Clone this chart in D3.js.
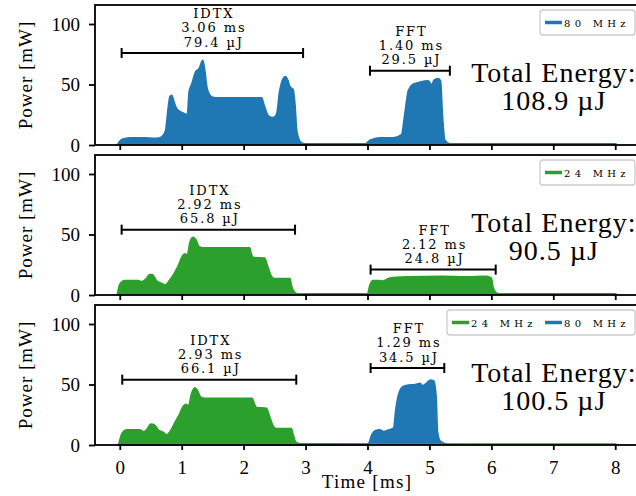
<!DOCTYPE html>
<html>
<head>
<meta charset="utf-8">
<script src="https://cdn.jsdelivr.net/npm/d3@7"></script>
<style>
body { margin: 0; background: white; }
text { font-family: "Liberation Serif", "Times New Roman", serif; fill: black; }
.small { font-family: "DejaVu Serif", serif; font-size: 13px; letter-spacing: 1.9px; }
.legtext { font-family: "DejaVu Serif", serif; font-size: 10px; letter-spacing: 4.3px; }
.tick text { font-size: 19px; font-family: "Liberation Serif", "Times New Roman", serif; }
.big { font-size: 28px; letter-spacing: 1px; }
</style>
</head>
<body>
<div id="vis"></div>
<script>
var w = 636;
var h = 496;

// power traces [time ms, power mW]
var trace80 = [[-0.04,0],[0.0,3],[0.05,5],[0.2,6],[0.4,6],[0.55,5.5],[0.65,6],[0.70,8],[0.74,12],[0.78,30],[0.81,40],[0.84,41],[0.88,35],[0.92,30],[1.0,27],[1.09,25],[1.12,44],[1.16,50],[1.23,61],[1.28,63],[1.34,70],[1.37,63],[1.41,47],[1.48,40],[1.55,39],[2.29,39],[2.33,33],[2.40,24],[2.47,22.6],[2.53,25],[2.58,44],[2.63,54],[2.67,56.5],[2.71,54],[2.75,48],[2.80,46],[2.83,33],[2.86,11],[2.93,2],[3.0,1],[3.97,1],[4.04,4],[4.2,6],[4.42,6],[4.55,8.5],[4.6,25],[4.66,45],[4.73,50],[4.85,52],[4.98,53],[5.04,49.6],[5.07,53.5],[5.14,55],[5.18,53],[5.21,25],[5.25,4],[5.33,1],[8.02,1]];

var trace24 = [[-0.04,0],[0.0,9],[0.08,12],[0.30,12],[0.35,11],[0.43,13.5],[0.48,17],[0.53,16.7],[0.59,12],[0.66,10],[0.74,8.5],[0.81,12.6],[0.87,17],[0.94,23.6],[1.01,32],[1.05,34],[1.09,33],[1.13,43],[1.18,47.6],[1.23,45.7],[1.28,40],[1.35,39],[2.10,39],[2.12,34.7],[2.16,31],[2.34,30.6],[2.38,25],[2.45,15.4],[2.50,13.5],[2.75,13.5],[2.77,8.5],[2.82,2.5],[2.88,1],[4.0,1],[4.04,8.5],[4.09,12],[4.2,12],[4.25,11.6],[4.36,14],[4.68,15],[5.22,15.5],[5.6,15],[5.92,15.5],[6.0,14],[6.03,5.8],[6.09,1.5],[6.15,1],[8.02,1]];

var mixed24 = [[-0.02,0],[0.04,10],[0.11,12.6],[0.32,12.6],[0.38,11],[0.44,13],[0.50,17.4],[0.55,17],[0.62,12.6],[0.70,10.5],[0.76,8.5],[0.83,12.6],[0.90,19.5],[0.97,26],[1.02,31.7],[1.07,33.6],[1.11,32.5],[1.16,42.6],[1.21,47.3],[1.25,45.4],[1.30,40],[1.37,38.6],[2.14,38.6],[2.17,34.4],[2.21,30.9],[2.37,30.4],[2.41,25],[2.48,15.4],[2.53,13.5],[2.77,13.5],[2.80,8.5],[2.84,2.5],[2.91,1],[8.02,0.8]];

var mixed80 = [[-0.04,0],[3.98,0],[4.01,0.5],[4.07,8.5],[4.12,11.8],[4.2,12.6],[4.26,11.2],[4.33,12.3],[4.42,14],[4.46,30.5],[4.5,41.5],[4.57,48.2],[4.66,49.6],[4.77,50],[4.85,51],[4.89,49],[4.95,51],[5.02,53.7],[5.07,53],[5.11,38.8],[5.13,11.5],[5.17,3.6],[5.25,1],[5.3,0]];

// series per panel
var panelSeries = [[trace80], [trace24], [mixed24, mixed80]];
var panelColors = [["#1f77b4"], ["#2ca02c"], ["#2ca02c", "#1f77b4"]];
var panelLegend = [["80 MHz"], ["24 MHz"], ["24 MHz", "80 MHz"]];

// span annotations
var spanPanel = [0, 0, 1, 1, 2, 2];
var spanName = ["IDTX", "FFT", "IDTX", "FFT", "IDTX", "FFT"];
var spanTime = ["3.06 ms", "1.40 ms", "2.92 ms", "2.12 ms", "2.93 ms", "1.29 ms"];
var spanEnergy = ["79.4 µJ", "29.5 µJ", "65.8 µJ", "24.8 µJ", "66.1 µJ", "34.5 µJ"];
var spanStart = [0.03, 4.04, 0.03, 4.05, 0.04, 4.05];
var spanEnd = [2.96, 5.33, 2.83, 6.07, 2.85, 5.24];
var spanLevel = [76, 61.4, 54, 21, 54, 63.6];

var totalEnergy = ["108.9 µJ", "90.5 µJ", "100.5 µJ"];

var xTicks = [0, 1, 2, 3, 4, 5, 6, 7, 8];
var yTicks = [0, 50, 100];

var svg = d3.select("#vis")
    .append("svg")
    .attr("width", w)
    .attr("height", h);

var left = 95, right = 640;
var panelTop = [5, 155, 305];
var panelH = 140;

var x = d3.scaleLinear().domain([-0.4, 8.4]).range([left, right]);

panelTop.forEach(function(top, i) {
	var y = d3.scaleLinear().domain([0, 115.7]).range([top + panelH, top]);
	var g = svg.append("g");

	var area = d3.area()
		.x(function(d) { return x(d[0]); })
		.y0(y(0))
		.y1(function(d) { return y(d[1]); })
		.curve(d3.curveMonotoneX);
	var line = d3.line()
		.x(function(d) { return x(d[0]); })
		.y(function(d) { return y(d[1]); })
		.curve(d3.curveMonotoneX);

	//fills first, lines on top
	panelSeries[i].forEach(function(s, j) {
		g.append("path")
			.attr("d", area(s))
			.attr("fill", panelColors[i][j]);
	});
	panelSeries[i].forEach(function(s, j) {
		g.append("path")
			.attr("d", line(s))
			.attr("fill", "none")
			.attr("stroke", panelColors[i][j])
			.attr("stroke-width", 1.6);
	});

	//span bars + labels
	for (var k = 0; k < spanPanel.length; k++) {
		if (spanPanel[k] != i) continue;
		var yb = y(spanLevel[k]);
		var xa = x(spanStart[k]), xb = x(spanEnd[k]);
		g.append("line")
			.attr("x1", xa).attr("x2", xb)
			.attr("y1", yb).attr("y2", yb)
			.attr("stroke", "black").attr("stroke-width", 2);
		[xa, xb].forEach(function(xc) {
			g.append("line")
				.attr("x1", xc).attr("x2", xc)
				.attr("y1", yb - 5).attr("y2", yb + 5)
				.attr("stroke", "black").attr("stroke-width", 2);
		});
		var xm = (xa + xb) / 2 + 1.5;
		var lines = [spanName[k], spanTime[k], spanEnergy[k]];
		lines.forEach(function(t, n) {
			g.append("text")
				.attr("class", "small")
				.attr("x", xm)
				.attr("y", yb - 34.7 + n * 14.1)
				.attr("text-anchor", "middle")
				.text(t);
		});
	}

	//total energy
	g.append("text")
		.attr("class", "big")
		.attr("x", x(7) + 0.5)
		.attr("y", y(52))
		.attr("text-anchor", "middle")
		.text("Total Energy:");
	g.append("text")
		.attr("class", "big")
		.attr("x", x(7) + 0.5)
		.attr("y", y(29))
		.attr("text-anchor", "middle")
		.text(totalEnergy[i]);

	//axes
	var yAxis = d3.axisLeft(y).tickValues(yTicks).tickSize(6).tickPadding(9);
	var ya = g.append("g").attr("transform", "translate(" + left + ",0)").call(yAxis);
	var xAxis = d3.axisBottom(x).tickValues(xTicks).tickSize(5).tickPadding(11);
	if (i < 2) xAxis.tickFormat("");
	var xa2 = g.append("g").attr("transform", "translate(0," + (top + panelH) + ")").call(xAxis);
	[ya, xa2].forEach(function(a) {
		a.attr("font-family", null);
		a.select(".domain").remove();
		a.selectAll("line").attr("stroke-width", 1.8);
	});

	//frame
	g.append("rect")
		.attr("x", left).attr("y", top)
		.attr("width", right - left).attr("height", panelH)
		.attr("fill", "none")
		.attr("stroke", "black")
		.attr("stroke-width", 1.8);

	//legend
	var labs = panelLegend[i];
	var itemW = 93;
	var lx = 635 - itemW * labs.length - 2;
	var leg = g.append("g");
	leg.append("rect")
		.attr("x", lx).attr("y", top + 5)
		.attr("width", 635 - lx).attr("height", 25)
		.attr("rx", 3)
		.attr("fill", "white").attr("fill-opacity", 0.8)
		.attr("stroke", "#cccccc").attr("stroke-width", 1.3);
	labs.forEach(function(l, j) {
		var ix = lx + 5 + j * itemW;
		var col = panelColors[i][labs.length == 1 ? 0 : j];
		leg.append("line")
			.attr("x1", ix).attr("x2", ix + 17)
			.attr("y1", top + 17.5).attr("y2", top + 17.5)
			.attr("stroke", col).attr("stroke-width", 3.5);
		leg.append("text")
			.attr("class", "legtext")
			.attr("x", ix + 19)
			.attr("y", top + 21.5)
			.text(l);
	});

	//y label
	g.append("text")
		.attr("transform", "translate(32," + (top + panelH / 2) + ") rotate(-90)")
		.attr("text-anchor", "middle")
		.style("font-size", "19px")
		.style("letter-spacing", "1px")
		.text("Power [mW]");
});

svg.append("text")
	.attr("x", 367)
	.attr("y", 488)
	.attr("text-anchor", "middle")
	.style("font-size", "19px")
	.style("letter-spacing", "1.3px")
	.text("Time [ms]");
</script>
</body>
</html>
